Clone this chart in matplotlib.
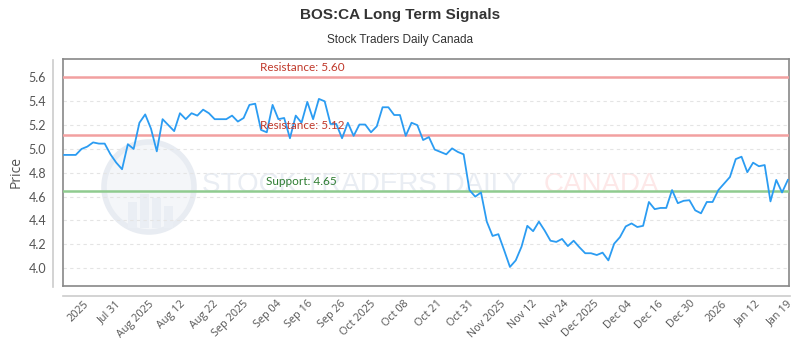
import matplotlib
matplotlib.use("Agg")
import matplotlib.pyplot as plt
from matplotlib.patches import Ellipse, Rectangle
from matplotlib.lines import Line2D
import numpy as np

prices = [4.95, 4.95, 4.95, 5.00, 5.02, 5.055, 5.045, 5.045, 4.955, 4.885,
          4.83, 5.04, 5.00, 5.22, 5.29, 5.17, 4.98, 5.25, 5.20, 5.15,
          5.30, 5.25, 5.30, 5.28, 5.33, 5.30, 5.25, 5.25, 5.25, 5.28,
          5.23, 5.26, 5.37, 5.38, 5.16, 5.14, 5.37, 5.25, 5.26, 5.09,
          5.28, 5.22, 5.395, 5.25, 5.42, 5.40, 5.21, 5.21, 5.09, 5.22,
          5.11, 5.205, 5.205, 5.14, 5.19, 5.35, 5.35, 5.285, 5.285, 5.11,
          5.22, 5.20, 5.075, 5.10, 4.995, 4.975, 4.955, 5.005, 4.975, 4.955,
          4.655, 4.60, 4.635, 4.39, 4.27, 4.285, 4.15, 4.01, 4.065, 4.18,
          4.355, 4.31, 4.39, 4.315, 4.23, 4.22, 4.245, 4.185, 4.23, 4.175,
          4.125, 4.125, 4.11, 4.13, 4.065, 4.205, 4.26, 4.35, 4.375, 4.345,
          4.355, 4.555, 4.495, 4.505, 4.505, 4.655, 4.545, 4.565, 4.57, 4.485,
          4.46, 4.555, 4.555, 4.655, 4.71, 4.765, 4.915, 4.935, 4.805, 4.885,
          4.855, 4.865, 4.56, 4.74, 4.635, 4.74]

tick_labels = ["2025", "Jul 31", "Aug 2025", "Aug 12", "Aug 22", "Sep 2025",
               "Sep 04", "Sep 16", "Sep 26", "Oct 2025", "Oct 08", "Oct 21",
               "Oct 31", "Nov 2025", "Nov 12", "Nov 24", "Dec 2025", "Dec 04",
               "Dec 16", "Dec 30", "2026", "Jan 12", "Jan 19"]
tick_index = [3.3, 8.8, 14.5, 20.0, 25.6, 30.9, 36.6, 42.0, 47.7, 52.8, 58.7,
              64.4, 69.8, 75.3, 80.8, 86.2, 91.4, 97.2, 102.6, 108.1, 113.6,
              119.3, 124.8]

resistance_levels = [5.60, 5.12]
support_levels = [4.65]
y_ticks = [4.0, 4.2, 4.4, 4.6, 4.8, 5.0, 5.2, 5.4, 5.6]

W, H = 800, 350
fig = plt.figure(figsize=(8, 3.5), dpi=100)
ax = fig.add_axes([63 / W, 1 - 286 / H, 726 / W, 227 / H])

x = np.arange(len(prices))

# watermark
ax.add_patch(Ellipse((149 / W, 1 - 187 / H), 90 / W, 90 / H, transform=fig.transFigure,
                     facecolor="#f4f6f9", edgecolor="#e8ecf2", lw=4, zorder=0))
for bx, bh in [(128, 26), (140, 34), (152, 30), (164, 22)]:
    ax.add_patch(Rectangle((bx / W, 1 - 228 / H), 9 / W, bh / H,
                 transform=fig.transFigure, facecolor="#eaeef4", edgecolor="none", zorder=0))
ax.text(202 / W, 1 - 185 / H, "STOCK TRADERS DAILY", transform=fig.transFigure,
        fontsize=20, family=["Liberation Sans", "DejaVu Sans"], color="#e9edf3",
        va="center", ha="left", zorder=0)
ax.text(544 / W, 1 - 185 / H, "CANADA", transform=fig.transFigure,
        fontsize=20, family=["Liberation Sans", "DejaVu Sans"], color="#fde8e8",
        va="center", ha="left", zorder=0)

ax.plot(x, prices, color="#2b9cf2", lw=1.3, zorder=4)

for r in resistance_levels:
    ax.axhline(r, color="#f2a0a0", lw=1.8, zorder=3)
    ax.annotate(f"Resistance: {r:.2f}", xy=(0.329, r), xycoords=("axes fraction", "data"),
                xytext=(0, 3), textcoords="offset points", ha="center", va="bottom",
                color="#c0392b", fontsize=8.5, family=["Lato", "DejaVu Sans"], zorder=5)
for s in support_levels:
    ax.axhline(s, color="#8fcb8f", lw=1.8, zorder=3)
    ax.annotate(f"Support: {s:.2f}", xy=(0.329, s), xycoords=("axes fraction", "data"),
                xytext=(0, 3), textcoords="offset points", ha="center", va="bottom",
                color="#2e7d32", fontsize=8.5, family=["Lato", "DejaVu Sans"], zorder=5)

ax.set_xlim(-0.2, len(prices) - 0.8)
ax.set_ylim(3.85, 5.755)
ax.set_yticks(y_ticks)
ax.set_yticklabels([f"{v:.1f}" for v in y_ticks], family=["Lato", "DejaVu Sans"],
                   fontsize=9, color="#555555")
ax.set_xticks(tick_index)
ax.set_xticklabels(tick_labels, rotation=45, ha="right", va="top", rotation_mode="anchor",
                   family=["Open Sans", "DejaVu Sans"], fontsize=7.8, color="#555555")
ax.tick_params(axis="y", length=0, pad=12)
ax.tick_params(axis="x", length=0, pad=9)
ax.yaxis.grid(True, color="#e4e4e4", lw=0.8, ls=(0, (3, 3)))
ax.set_axisbelow(True)
for sp in ax.spines.values():
    sp.set_color("#888888")
    sp.set_linewidth(1.2)

ax.set_ylabel("Price", fontsize=10, color="#555555", family=["Open Sans", "DejaVu Sans"])
ax.yaxis.set_label_coords(-(63 - 24) / 726, 0.5)

fig.add_artist(Line2D([53 / W, 53 / W], [1 - 60 / H, 1 - 287 / H], color="#cccccc", lw=1.2))
fig.add_artist(Line2D([63 / W, 790 / W], [1 - 296 / H, 1 - 296 / H], color="#cccccc", lw=1.2))

fig.text(0.5, 1 - 15 / H, "BOS:CA Long Term Signals", ha="center", va="center",
         fontsize=11, fontweight="bold", color="#333333",
         family=["Liberation Sans", "DejaVu Sans"])
fig.text(0.5, 1 - 40 / H, "Stock Traders Daily Canada", ha="center", va="center",
         fontsize=8.5, color="#333333", family=["Liberation Sans", "DejaVu Sans"])

fig.savefig("out.png", dpi=100, facecolor="white")
